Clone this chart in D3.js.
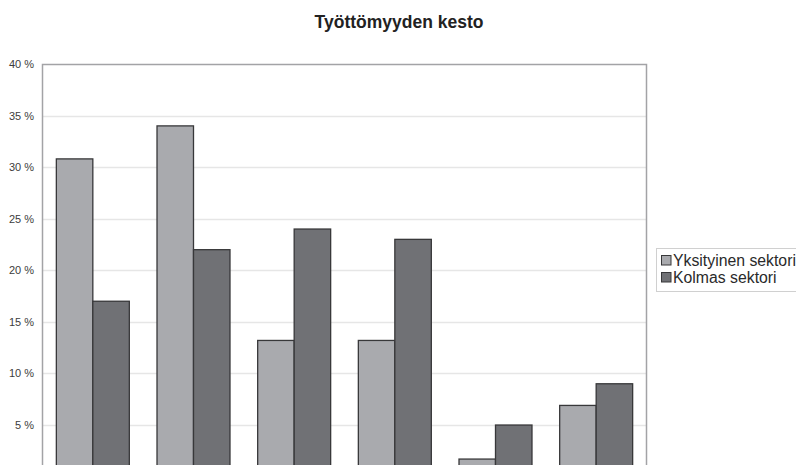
<!DOCTYPE html>
<html>
<head>
<meta charset="utf-8">
<script src="https://cdn.jsdelivr.net/npm/d3@7/dist/d3.min.js"></script>
<style>
  html, body { margin: 0; padding: 0; background: #fff; overflow: hidden; }
  svg { display: block; font-family: "Liberation Sans", Arial, sans-serif; }
</style>
</head>
<body>
<svg id="chart" width="796" height="465"></svg>
<script>
// Unemployment duration by sector (share of respondents)
const categories = ["Alle 3 kk", "3–6 kk", "6–12 kk", "1–2 v", "2–3 v", "Yli 3 v"];
const seriesNames = ["Yksityinen sektori", "Kolmas sektori"];
const yksityinen = [30.8, 34.0, 13.2, 13.2, 1.7, 6.9];
const kolmas = [17.0, 22.0, 24.0, 23.0, 5.0, 9.0];
const yTicks = [5, 10, 15, 20, 25, 30, 35, 40];

const seriesValues = [yksityinen, kolmas];
const colors = ["#a9aaae", "#707175"];

const svg = d3.select("#chart");
const plot = { left: 42, right: 646, top: 64, bottom: 476.6 };

const x = d3.scaleBand()
  .domain(categories)
  .range([plot.left, plot.right])
  .paddingInner(0.275)
  .paddingOuter(0.1375);

const xInner = d3.scaleBand()
  .domain(seriesNames)
  .range([0, x.bandwidth()]);

const y = d3.scaleLinear()
  .domain([0, 40])
  .range([plot.bottom, plot.top]);

// Gridlines
svg.append("g")
  .selectAll("line")
  .data(yTicks.filter(t => t < 40))
  .join("line")
  .attr("x1", plot.left)
  .attr("x2", plot.right)
  .attr("y1", d => Math.round(y(d)) + 0.5)
  .attr("y2", d => Math.round(y(d)) + 0.5)
  .attr("stroke", "#e6e6e6")
  .attr("stroke-width", 1.5);

// Plot frame (its bottom edge falls below the visible area)
svg.append("rect")
  .attr("x", plot.left + 0.5)
  .attr("y", plot.top + 0.5)
  .attr("width", plot.right - plot.left)
  .attr("height", plot.bottom - plot.top)
  .attr("fill", "none")
  .attr("stroke", "#a3a3a6")
  .attr("stroke-width", 1.5);

// Y axis labels
const yAxis = d3.axisLeft(y)
  .tickValues(yTicks)
  .tickSize(0)
  .tickPadding(8)
  .tickFormat(d => d + " %");

svg.append("g")
  .attr("transform", `translate(${plot.left},0)`)
  .call(yAxis)
  .call(g => g.select(".domain").remove())
  .call(g => g.selectAll("text")
    .attr("fill", "#3c3c3c")
    .style("font-size", "11px"));

// Bars
const groups = svg.append("g")
  .selectAll("g")
  .data(categories)
  .join("g")
  .attr("transform", d => `translate(${x(d)},0)`);

groups.selectAll("rect")
  .data((d, i) => seriesNames.map((s, j) => ({ s, j, v: seriesValues[j][i] })))
  .join("rect")
  .attr("x", d => xInner(d.s) + 0.5)
  .attr("y", d => y(d.v))
  .attr("width", xInner.bandwidth())
  .attr("height", d => plot.bottom - y(d.v))
  .attr("fill", d => colors[d.j])
  .attr("stroke", "#38383a")
  .attr("stroke-width", 1.3);

// Title
svg.append("text")
  .attr("x", 399)
  .attr("y", 27.5)
  .attr("text-anchor", "middle")
  .attr("fill", "#222")
  .style("font-size", "17.5px")
  .style("font-weight", "bold")
  .text("Työttömyyden kesto");

// Legend
const legend = svg.append("g").attr("transform", "translate(656,248)");
legend.append("rect")
  .attr("x", 0.5)
  .attr("y", 0.5)
  .attr("width", 150)
  .attr("height", 43)
  .attr("fill", "#fff")
  .attr("stroke", "#d0d0d0");

const items = legend.selectAll("g.item")
  .data(seriesNames)
  .join("g")
  .attr("class", "item")
  .attr("transform", (d, i) => `translate(5,${7 + i * 17})`);

items.append("rect")
  .attr("x", 0.5)
  .attr("y", 0.5)
  .attr("width", 9.5)
  .attr("height", 9.5)
  .attr("fill", (d, i) => colors[i])
  .attr("stroke", "#38383a")
  .attr("stroke-width", 1);

items.append("text")
  .attr("x", 12)
  .attr("y", 10.5)
  .attr("fill", "#2a2a2a")
  .style("font-size", "15.8px")
  .text(d => d);
</script>
</body>
</html>
